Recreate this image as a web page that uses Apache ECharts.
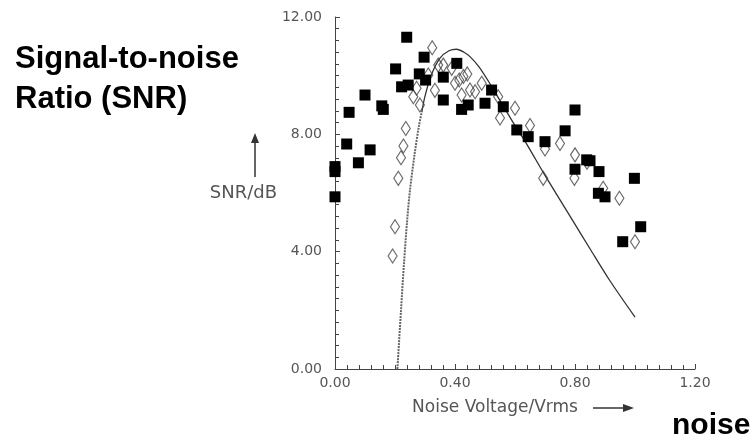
<!DOCTYPE html>
<html>
<head>
<meta charset="utf-8">
<script src="https://cdn.jsdelivr.net/npm/echarts@6/dist/echarts.min.js"></script>
<style>
  html, body { margin: 0; padding: 0; background: #fff; }
  #chart { width: 755px; height: 447px; }
</style>
</head>
<body>
<div id="chart"></div>
<script>
// measured points, filled squares
var squares = [
  [0, 5.87], [0, 6.73], [0, 6.9], [0.039, 7.67], [0.047, 8.75], [0.078, 7.03],
  [0.1, 9.34], [0.117, 7.47], [0.156, 8.97], [0.161, 8.85], [0.202, 10.23],
  [0.222, 9.62], [0.239, 11.31], [0.244, 9.68], [0.281, 10.06], [0.297, 10.63],
  [0.302, 9.85], [0.361, 9.95], [0.361, 9.17], [0.406, 10.42], [0.422, 8.85],
  [0.444, 9.0], [0.5, 9.06], [0.522, 9.51], [0.561, 8.94], [0.606, 8.15],
  [0.644, 7.92], [0.7, 7.75], [0.767, 8.12], [0.8, 8.83], [0.8, 6.81],
  [0.839, 7.13], [0.85, 7.1], [0.88, 6.73], [0.878, 5.99], [0.9, 5.87],
  [0.998, 6.5], [0.959, 4.34], [1.019, 4.85]
];

// hollow diamonds
var diamonds = [
  [0.192, 3.85], [0.2, 4.85], [0.211, 6.5], [0.22, 7.2], [0.228, 7.6], [0.236, 8.2],
  [0.261, 9.28], [0.272, 9.57], [0.283, 9.0], [0.311, 10.02], [0.324, 10.95],
  [0.333, 9.5], [0.344, 10.36], [0.361, 10.36], [0.389, 10.25], [0.4, 9.74],
  [0.414, 9.85], [0.428, 9.97], [0.441, 10.06], [0.422, 9.34], [0.45, 9.51],
  [0.467, 9.45], [0.489, 9.74], [0.544, 9.28], [0.55, 8.56], [0.6, 8.89],
  [0.65, 8.3], [0.694, 6.5], [0.7, 7.5], [0.75, 7.69], [0.8, 7.3], [0.798, 6.5],
  [0.84, 7.05], [0.894, 6.16], [0.948, 5.82], [1.0, 4.34]
];

// theory curve: steep rising part (dotted) and the rest (solid)
var curveRise = [
  [0.208, 0], [0.22, 2.0], [0.23, 3.6], [0.24, 5.0], [0.25, 6.1],
  [0.265, 7.3], [0.28, 8.3], [0.29, 8.8]
];
var curveMain = [
  [0.29, 8.8], [0.3, 9.3], [0.32, 10.0], [0.35, 10.6], [0.38, 10.85],
  [0.405, 10.9], [0.43, 10.8], [0.45, 10.65], [0.48, 10.3], [0.515, 9.75],
  [0.55, 9.15], [0.595, 8.38], [0.64, 7.65], [0.7, 6.6], [0.79, 5.1],
  [0.85, 4.1], [0.917, 3.0], [1.0, 1.77]
];

var xRange = [0, 1.2];
var yRange = [0, 12];

var labelFont = { color: '#555', fontFamily: 'DejaVu Sans', fontSize: 14 };

var myChart = echarts.init(document.getElementById('chart'));
var option = {
  animation: false,
  title: [
    {
      text: 'Signal-to-noise\nRatio (SNR)',
      left: 15, top: 39, padding: 0,
      textStyle: { fontFamily: 'Liberation Sans', fontWeight: 'bold', fontSize: 31, lineHeight: 40, color: '#000' }
    },
    {
      text: 'noise',
      left: 672, top: 406, padding: 0,
      textStyle: { fontFamily: 'Liberation Sans', fontWeight: 'bold', fontSize: 30, lineHeight: 40, color: '#000' }
    }
  ],
  grid: { left: 335, right: 60, top: 17, bottom: 78 },
  xAxis: {
    type: 'value',
    min: xRange[0], max: xRange[1], interval: 0.4,
    name: 'Noise Voltage/Vrms',
    nameLocation: 'middle',
    nameGap: 30,
    nameTextStyle: { color: '#555', fontFamily: 'DejaVu Sans', fontSize: 17, padding: [0, 40, 0, 0] },
    axisLine: { lineStyle: { color: '#444', width: 1 } },
    axisTick: { inside: true, length: 5, lineStyle: { color: '#444' } },
    minorTick: { show: true, splitNumber: 10, length: 4, lineStyle: { color: '#444' } },
    axisLabel: Object.assign({ margin: 7, formatter: function (v) { return v.toFixed(2); } }, labelFont),
    splitLine: { show: false }
  },
  yAxis: {
    type: 'value',
    min: yRange[0], max: yRange[1], interval: 4,
    name: 'SNR/dB',
    nameLocation: 'middle',
    nameRotate: 0,
    nameGap: 44,
    nameTextStyle: { color: '#555', fontFamily: 'DejaVu Sans', fontSize: 18 },
    axisLine: { show: true, lineStyle: { color: '#444', width: 1 } },
    axisTick: { show: true, inside: true, length: 5, lineStyle: { color: '#444' } },
    minorTick: { show: true, splitNumber: 10, length: 4, lineStyle: { color: '#444' } },
    axisLabel: Object.assign({ margin: 13, formatter: function (v) { return v.toFixed(2); } }, labelFont),
    splitLine: { show: false }
  },
  graphic: [
    // arrow next to SNR/dB
    { type: 'line', shape: { x1: 255, y1: 177, x2: 255, y2: 140 }, style: { stroke: '#333', lineWidth: 1.5 } },
    { type: 'polygon', shape: { points: [[251, 143], [259, 143], [255, 133]] }, style: { fill: '#333' } },
    // arrow after x axis name
    { type: 'line', shape: { x1: 593, y1: 408, x2: 626, y2: 408 }, style: { stroke: '#333', lineWidth: 1.5 } },
    { type: 'polygon', shape: { points: [[623, 404], [623, 412], [634, 408]] }, style: { fill: '#333' } }
  ],
  series: [
    {
      type: 'line', data: curveRise, showSymbol: false, smooth: 0.3,
      lineStyle: { color: '#666', width: 2, type: [2, 1] }, z: 1
    },
    {
      type: 'line', data: curveMain, showSymbol: false, smooth: 0.3,
      lineStyle: { color: '#333', width: 1.3 }, z: 1
    },
    {
      type: 'scatter', data: diamonds, symbol: 'diamond', symbolSize: [9, 14],
      itemStyle: { color: 'rgba(255,255,255,0)', borderColor: '#444', borderWidth: 1.2 }, z: 2
    },
    {
      type: 'scatter', data: squares, symbol: 'rect', symbolSize: 11,
      itemStyle: { color: '#000', opacity: 1 }, z: 3
    }
  ]
};
myChart.setOption(option);
</script>
</body>
</html>
